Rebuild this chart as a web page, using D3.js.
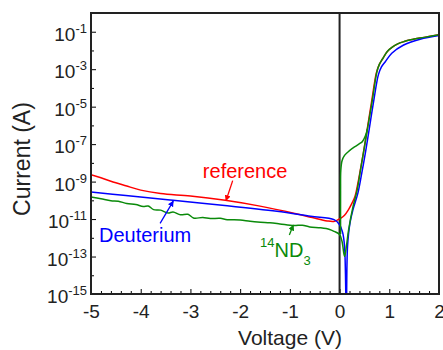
<!DOCTYPE html>
<html>
<head>
<meta charset="utf-8">
<script src="https://cdn.jsdelivr.net/npm/d3@7"></script>
<style>
body { margin: 0; background: #fff; }
text { font-family: "Liberation Sans", Arial, sans-serif; }
</style>
</head>
<body>
<script>
// reference sample
var voltageRef = [-5, -4.8, -4.6, -4.3, -4.0, -3.6, -3.0, -2.3, -1.6, -0.9, -0.55, -0.25, -0.1, 0.02, 0.1, 0.18,
  0.25, 0.31, 0.36, 0.41, 0.48, 0.55, 0.65, 0.74, 0.8, 0.86, 0.96, 1.06, 1.16, 1.3, 1.43, 1.7, 2.0];
var currentRef = [2.3e-9, 1.6e-9, 1.05e-9, 6.0e-10, 3.5e-10, 2.3e-10, 1.7e-10, 1.0e-10, 4.9e-11, 2.0e-11, 1.2e-11,
  7.9e-12, 7.6e-12, 1.1e-11, 1.6e-11, 3.2e-11, 7.1e-11, 1.6e-10, 6.3e-10, 3.2e-9, 3.5e-8, 5.0e-7, 2.3e-5, 6.3e-4,
  1.8e-3, 3.4e-3, 8.9e-3, 1.5e-2, 2.2e-2, 3.0e-2, 3.7e-2, 5.0e-2, 6.9e-2];

// deuterium sample
var voltageDeut = [-5, -4.3, -3.35, -2.26, -1.26, -0.58, -0.11, 0.0, 0.06, 0.1, 0.135, 0.16, 0.21, 0.27, 0.37,
  0.45, 0.52, 0.59, 0.69, 0.78, 0.84, 0.92, 1.05, 1.28, 1.62, 2.0];
var currentDeut = [2.8e-10, 1.8e-10, 1.0e-10, 5.2e-11, 2.6e-11, 1.4e-11, 9.3e-12, 5.0e-12, 2.0e-12, 3.5e-13, 1e-16,
  3.5e-13, 6.3e-12, 3.2e-11, 2.5e-10, 3.2e-9, 3.5e-8, 5.0e-7, 2.3e-5, 5.0e-4, 1.3e-3, 2.5e-3, 7.1e-3, 1.9e-2,
  4.0e-2, 6.3e-2];

// 14ND3 sample, main sweep
var voltageNd3 = [-5, -4.8, -4.6, -4.45, -4.28, -4.1, -3.95, -3.85, -3.74, -3.6, -3.45, -3.35, -3.2, -3.05, -2.94,
  -2.75, -2.6, -2.4, -2.26, -2.0, -1.8, -1.59, -1.4, -1.2, -0.92, -0.75, -0.6, -0.38, -0.2, -0.11, 0.0, 0.05, 0.1,
  0.14, 0.18, 0.27, 0.35, 0.42, 0.49, 0.56, 0.66, 0.75, 0.8, 0.86, 0.96, 1.06, 1.16, 1.3, 1.43, 1.7, 2.0];
var currentNd3 = [1.5e-10, 1.2e-10, 9.5e-11, 8.9e-11, 6.8e-11, 6.0e-11, 4.7e-11, 5.0e-11, 3.2e-11, 3.0e-11, 2.1e-11,
  2.4e-11, 1.7e-11, 1.8e-11, 1.15e-11, 1.2e-11, 1.07e-11, 1.1e-11, 9.3e-12, 8.9e-12, 7.6e-12, 6.8e-12, 6.3e-12,
  5.5e-12, 4.5e-12, 4.7e-12, 3.8e-12, 3.4e-12, 2.8e-12, 2.2e-12, 1.5e-12, 6.3e-13, 1.0e-13, 4.0e-13, 2.5e-12,
  4.6e-11, 3.2e-10, 4.0e-9, 5.0e-8, 6.3e-7, 2.3e-5, 7.1e-4, 1.8e-3, 3.4e-3, 8.9e-3, 1.5e-2, 2.2e-2, 3.0e-2,
  3.7e-2, 5.0e-2, 6.9e-2];

// 14ND3 sample, upper branch near 0 V
var voltageNd3Branch = [0.02, 0.02, 0.025, 0.05, 0.1, 0.2, 0.3, 0.4, 0.46, 0.52, 0.56];
var currentNd3Branch = [1.6e-12, 3.2e-10, 4.0e-9, 1.3e-8, 2.5e-8, 4.5e-8, 7.1e-8, 1.05e-7, 1.4e-7, 2.8e-7, 6.3e-7];

var xTicks = [-5, -4, -3, -2, -1, 0, 1, 2];
var yExponents = [-1, -3, -5, -7, -9, -11, -13, -15];
var yMinorExponents = [0, -2, -4, -6, -8, -10, -12, -14];

var margin = {top: 13, right: 4, bottom: 56, left: 91},
    width = 443 - margin.left - margin.right,
    height = 350 - margin.top - margin.bottom;

var x = d3.scaleLinear().domain([-5, 2]).range([0, width]);
var y = d3.scaleLog().domain([1e-15, 1]).range([height, 0]);

var svg = d3.select("body").append("svg")
    .attr("width", width + margin.left + margin.right)
    .attr("height", height + margin.top + margin.bottom)
  .append("g")
    .attr("transform", "translate(" + margin.left + "," + margin.top + ")");

var defs = svg.append("defs");
defs.append("clipPath").attr("id", "plot")
  .append("rect").attr("width", width).attr("height", height);

// one arrow head per colour
[["red", "#ff0000"], ["blue", "#0000ff"], ["green", "#0a8a0a"]].forEach(function(c) {
  defs.append("marker")
      .attr("id", "head-" + c[0])
      .attr("viewBox", "0 0 10 10")
      .attr("refX", 9).attr("refY", 5)
      .attr("markerWidth", 6).attr("markerHeight", 6)
      .attr("markerUnits", "userSpaceOnUse")
      .attr("orient", "auto")
    .append("path")
      .attr("d", "M0,0L10,5L0,10z")
      .attr("fill", c[1]);
});

// ticks (inside)
var xMinor = d3.range(-25, 11).map(function(i) { return i / 5; })
  .filter(function(d) { return Math.abs(d - Math.round(d)) > 1e-6; });

svg.append("g")
    .attr("transform", "translate(0," + height + ")")
    .call(d3.axisBottom(x).tickValues(xMinor).tickSizeInner(-3).tickSizeOuter(0).tickFormat(""))
    .call(function(g) { g.select(".domain").remove(); });

var xAxis = svg.append("g")
    .attr("transform", "translate(0," + height + ")")
    .call(d3.axisBottom(x).tickValues(xTicks).tickSizeInner(-5).tickSizeOuter(0).tickPadding(11)
      .tickFormat(function(d) { return d; }));
xAxis.select(".domain").remove();
xAxis.selectAll("text").attr("font-size", 19).attr("fill", "#222");

svg.append("g")
    .call(d3.axisLeft(y).tickValues(yMinorExponents.map(function(e) { return Math.pow(10, e); }))
      .tickSizeInner(-3).tickSizeOuter(0).tickFormat(""))
    .call(function(g) { g.select(".domain").remove(); });

svg.append("g")
    .call(d3.axisLeft(y).tickValues(yExponents.map(function(e) { return Math.pow(10, e); }))
      .tickSizeInner(-5).tickSizeOuter(0).tickFormat(""))
    .call(function(g) { g.select(".domain").remove(); });

svg.selectAll(".ylab")
    .data(yExponents)
  .enter().append("text")
    .attr("class", "ylab")
    .attr("x", -4)
    .attr("y", function(d) { return y(Math.pow(10, d)) + 9; })
    .attr("text-anchor", "end")
    .attr("font-size", 19)
    .attr("fill", "#222")
    .each(function(d) {
      var t = d3.select(this);
      t.append("tspan").text("10");
      t.append("tspan").attr("dy", -8).attr("font-size", 13).text(d);
    });

// vertical line at 0 V
svg.append("line")
    .attr("x1", x(0)).attr("x2", x(0))
    .attr("y1", 0).attr("y2", height)
    .attr("stroke", "#222").attr("stroke-width", 2);

// curves
var line = d3.line()
    .x(function(d) { return x(d[0]); })
    .y(function(d) { return y(d[1]); })
    .curve(d3.curveCatmullRom.alpha(0.5));

function pairs(v, c) { return v.map(function(d, i) { return [d, c[i]]; }); }

var curves = [
  [pairs(voltageRef, currentRef), "#ff0000"],
  [pairs(voltageDeut, currentDeut), "#0000ff"],
  [pairs(voltageNd3, currentNd3), "#0a8a0a"],
  [pairs(voltageNd3Branch, currentNd3Branch), "#0a8a0a"]
];

svg.append("g").attr("clip-path", "url(#plot)")
  .selectAll("path")
    .data(curves)
  .enter().append("path")
    .attr("d", function(d) { return line(d[0]); })
    .attr("fill", "none")
    .attr("stroke", function(d) { return d[1]; })
    .attr("stroke-width", 1.5);

// frame
svg.append("rect")
    .attr("width", width).attr("height", height)
    .attr("fill", "none")
    .attr("stroke", "#222").attr("stroke-width", 2);

// annotations
function arrow(v0, i0, v1, i1, name, col) {
  svg.append("line")
      .attr("x1", x(v0)).attr("y1", y(i0))
      .attr("x2", x(v1)).attr("y2", y(i1))
      .attr("stroke", col).attr("stroke-width", 1.3)
      .attr("marker-end", "url(#head-" + name + ")");
}

svg.append("text")
    .attr("x", x(-2.75)).attr("y", y(Math.pow(10, -8.83)))
    .attr("font-size", 20).attr("fill", "#ff0000")
    .text("reference");
arrow(-2.15, Math.pow(10, -8.95), -2.285, Math.pow(10, -10.02), "red", "#ff0000");

svg.append("text")
    .attr("x", x(-4.84)).attr("y", y(Math.pow(10, -12.23)))
    .attr("font-size", 20).attr("fill", "#0000ff")
    .text("Deuterium");
arrow(-3.61, Math.pow(10, -11.23), -3.345, Math.pow(10, -10.04), "blue", "#0000ff");

var nd = svg.append("text")
    .attr("x", x(-1.6)).attr("y", y(Math.pow(10, -13.01)))
    .attr("font-size", 20).attr("fill", "#0a8a0a");
nd.append("tspan").attr("font-size", 13).attr("dy", -10).text("14");
nd.append("tspan").attr("dy", 10).text("ND");
nd.append("tspan").attr("font-size", 13).attr("dy", 8).text("3");
arrow(-1.01, Math.pow(10, -11.85), -0.93, Math.pow(10, -11.32), "green", "#0a8a0a");

// axis titles
svg.append("text")
    .attr("x", 290 - margin.left).attr("y", 345 - margin.top)
    .attr("text-anchor", "middle")
    .attr("font-size", 21).attr("fill", "#222")
    .text("Voltage (V)");

svg.append("text")
    .attr("transform", "translate(" + (30 - margin.left) + "," + (159 - margin.top) + ") rotate(-90)")
    .attr("text-anchor", "middle")
    .attr("font-size", 23).attr("fill", "#222")
    .text("Current (A)");
</script>
</body>
</html>
